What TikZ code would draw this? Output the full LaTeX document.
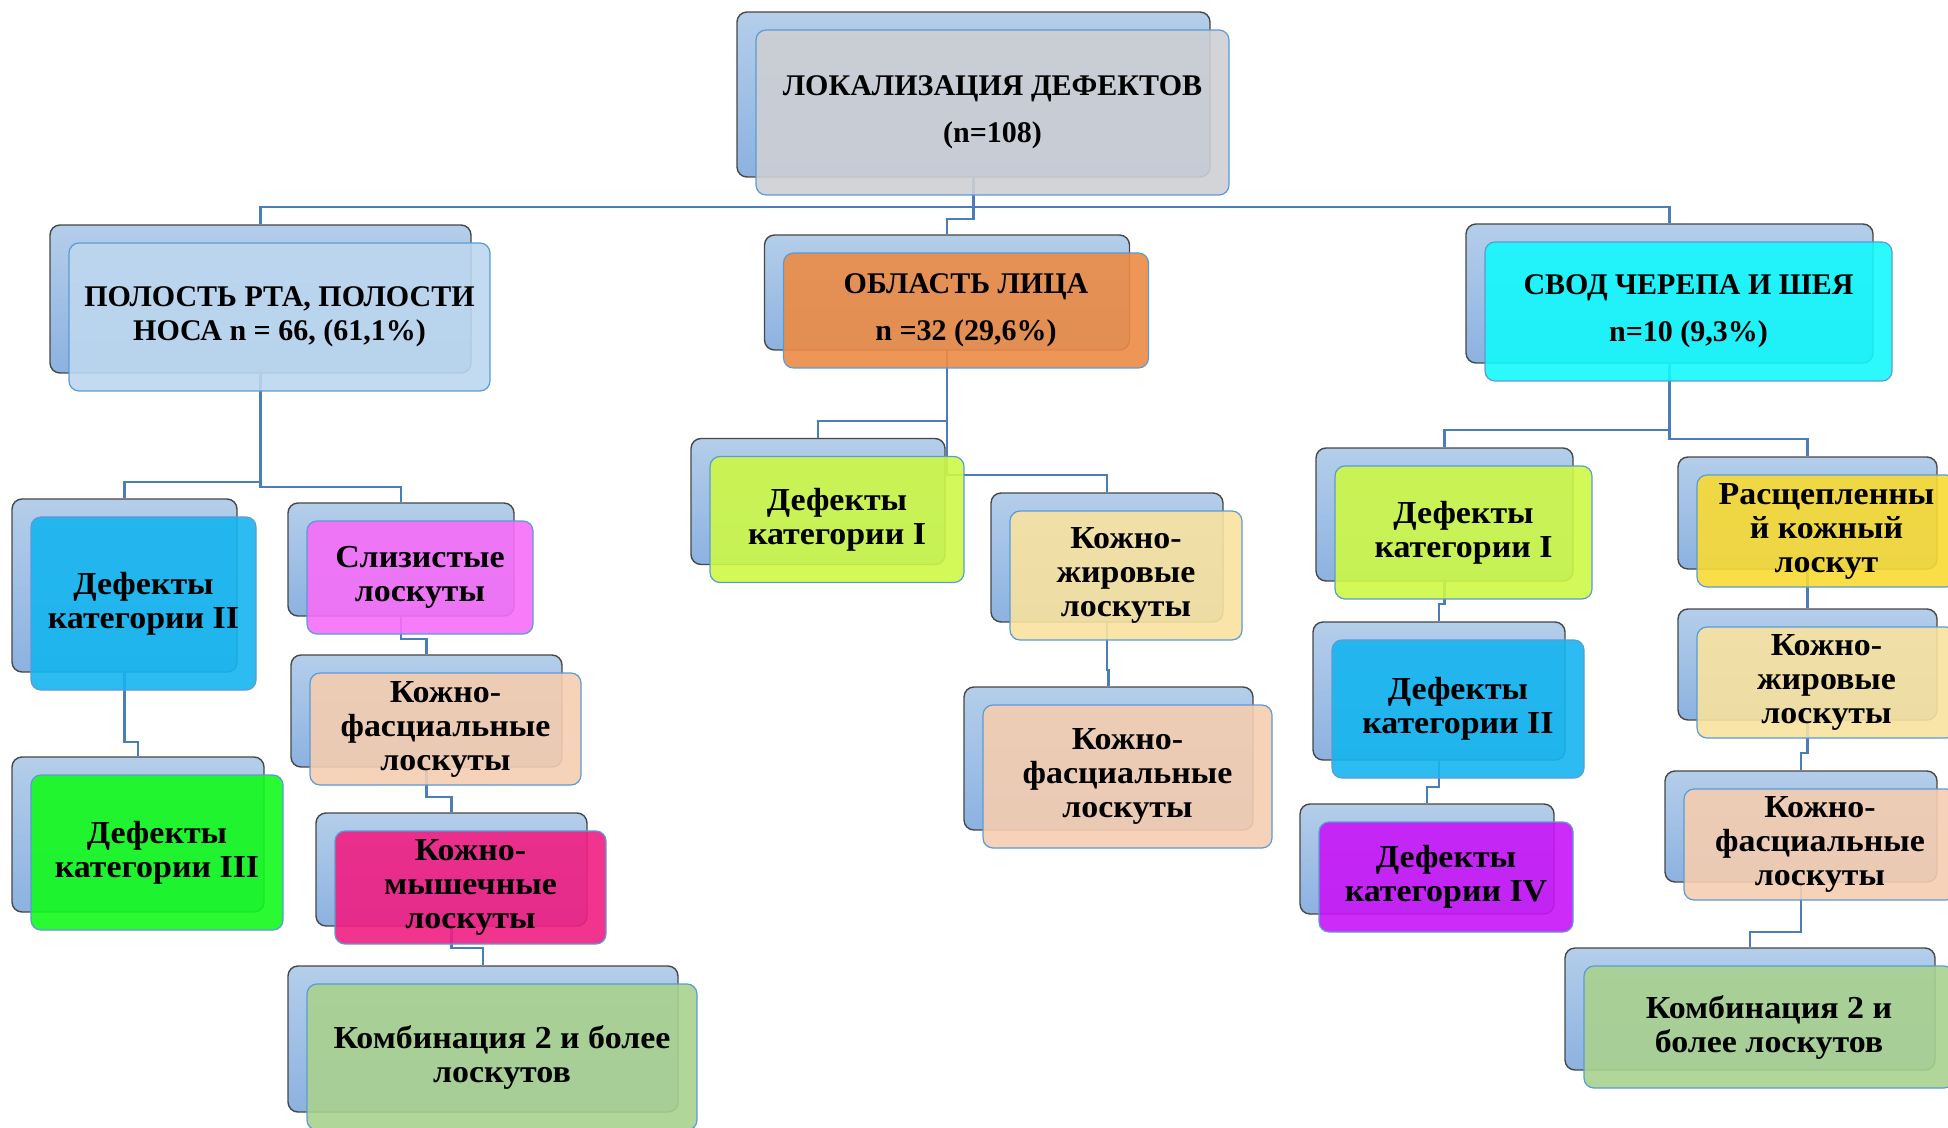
\documentclass[tikz,border=0pt]{standalone}
\usepackage{fontspec}
\setmainfont{Liberation Serif}
\newfontfamily\cardfont[FakeStretch=1.06]{Liberation Serif}

\definecolor{backtop}{HTML}{B4CEEA}
\definecolor{backbot}{HTML}{8CB2E1}
\definecolor{backline}{HTML}{474747}
\definecolor{frontline}{HTML}{5B9BD5}
\definecolor{linkblue}{HTML}{4A7EBB}
\definecolor{cRoot}{HTML}{CDCFD4}
\definecolor{cOral}{HTML}{BDD7EE}
\definecolor{cFace}{HTML}{EC8B45}
\definecolor{cSkull}{HTML}{14F8FC}
\definecolor{cCatI}{HTML}{CDF846}
\definecolor{cCatII}{HTML}{15B5EF}
\definecolor{cCatIII}{HTML}{12FA1C}
\definecolor{cCatIV}{HTML}{C815F7}
\definecolor{cMucosa}{HTML}{F66EF8}
\definecolor{cFat}{HTML}{F8E29F}
\definecolor{cFascia}{HTML}{F5CDB0}
\definecolor{cMuscle}{HTML}{F01E82}
\definecolor{cCombo}{HTML}{A9D18E}
\definecolor{cSplit}{HTML}{F8DA33}

\tikzset{
  wh/.style 2 args={minimum width={#1*0.5pt}, minimum height={#2*0.5pt}},
  back/.style={draw=backline, line width=0.7pt, rounded corners=5pt, top color=backtop, bottom color=backbot, inner sep=0pt},
  front/.style={draw=frontline, line width=0.6pt, rounded corners=5pt, fill opacity=0.9, text opacity=1, inner sep=0pt, align=center, font=\cardfont\fontsize{16}{17}\selectfont\bfseries, execute at begin node={\rule{0pt}{15pt}}},
  caps/.style={font=\rmfamily\fontsize{15}{17}\selectfont\bfseries},
  wide/.style={font=\rmfamily\fontsize{15}{23.5}\selectfont\bfseries},
  link/.style={draw=linkblue, line width=1.4pt}
}

\begin{document}
\begin{tikzpicture}[x=0.5pt,y=-0.5pt]
\clip (0,0) rectangle (1948,1128);

\node[back, wh={473}{165}] (root) at (973.5,94.5) {};
\node[back, wh={421}{148}] (oral) at (260.5,299) {};
\node[back, wh={365}{115}] (face) at (947,292.5) {};
\node[back, wh={407}{139}] (skull) at (1669.5,293.5) {};
\node[back, wh={225}{173}] (catIIL) at (124.5,585.5) {};
\node[back, wh={252}{155}] (catIIIL) at (138,834.5) {};
\node[back, wh={226}{113}] (mucL) at (401,559.5) {};
\node[back, wh={271}{112}] (fascL) at (426.5,711) {};
\node[back, wh={271}{113}] (muscL) at (451.5,869.5) {};
\node[back, wh={390}{146}] (combL) at (483,1039) {};
\node[back, wh={254}{126}] (catIM) at (818,501.5) {};
\node[back, wh={232}{129}] (fatM) at (1107,557.5) {};
\node[back, wh={289}{143}] (fascM) at (1108.5,758.5) {};
\node[back, wh={257}{133}] (catIR) at (1444.5,514.5) {};
\node[back, wh={252}{138}] (catIIR) at (1439,691) {};
\node[back, wh={254}{110}] (catIVR) at (1427,859) {};
\node[back, wh={259}{112}] (splitR) at (1807.5,513) {};
\node[back, wh={259}{111}] (fatR) at (1807.5,664.5) {};
\node[back, wh={272}{111}] (fascR) at (1801,826.5) {};
\node[back, wh={370}{122}] (combR) at (1750,1009) {};

\draw[link] (root.south) -- (root.south |- 0,207) -| (oral.north);
\draw[link] (root.south) -- (root.south |- 0,207) -| (skull.north);
\draw[link] (root.south) -- (root.south |- 0,219) -| (face.north);
\draw[link] (oral.south) -- (oral.south |- 0,482) -| (catIIL.north);
\draw[link] (oral.south) -- (oral.south |- 0,487) -| (mucL.north);
\draw[link] (catIIL.south) -- (catIIL.south |- 0,742) -| (catIIIL.north);
\draw[link] (mucL.south) -- (mucL.south |- 0,639) -| (fascL.north);
\draw[link] (fascL.south) -- (fascL.south |- 0,797) -| (muscL.north);
\draw[link] (muscL.south) -- (muscL.south |- 0,948) -| (combL.north);
\draw[link] (face.south) -- (face.south |- 0,421) -| (catIM.north);
\draw[link] (face.south) -- (face.south |- 0,475) -| (fatM.north);
\draw[link] (fatM.south) -- (fatM.south |- 0,670) -| (fascM.north);
\draw[link] (skull.south) -- (skull.south |- 0,430) -| (catIR.north);
\draw[link] (skull.south) -- (skull.south |- 0,439) -| (splitR.north);
\draw[link] (catIR.south) -- (catIR.south |- 0,604) -| (catIIR.north);
\draw[link] (catIIR.south) -- (catIIR.south |- 0,787) -| (catIVR.north);
\draw[link] (splitR.south) -- (fatR.north);
\draw[link] (fatR.south) -- (fatR.south |- 0,753) -| (fascR.north);
\draw[link] (fascR.south) -- (fascR.south |- 0,932) -| (combR.north);

\node[front, wide, wh={473}{165}, fill=cRoot] (root-t) at ([shift={(19,18)}]root.center) {ЛОКАЛИЗАЦИЯ ДЕФЕКТОВ\\(n=108)};
\node[front, caps, wh={421}{148}, fill=cOral] (oral-t) at ([shift={(19,18)}]oral.center) {ПОЛОСТЬ РТА, ПОЛОСТИ\\НОСА n = 66, (61,1\%)};
\node[front, wide, wh={365}{115}, fill=cFace] (face-t) at ([shift={(19,18)}]face.center) {ОБЛАСТЬ ЛИЦА\\n =32 (29,6\%)};
\node[front, wide, wh={407}{139}, fill=cSkull] (skull-t) at ([shift={(19,18)}]skull.center) {СВОД ЧЕРЕПА И ШЕЯ\\n=10 (9,3\%)};
\node[front, wh={225}{173}, fill=cCatII] (catIIL-t) at ([shift={(19,18)}]catIIL.center) {Дефекты\\категории II};
\node[front, wh={252}{155}, fill=cCatIII] (catIIIL-t) at ([shift={(19,18)}]catIIIL.center) {Дефекты\\категории III};
\node[front, wh={226}{113}, fill=cMucosa] (mucL-t) at ([shift={(19,18)}]mucL.center) {Слизистые\\лоскуты};
\node[front, wh={271}{112}, fill=cFascia] (fascL-t) at ([shift={(19,18)}]fascL.center) {Кожно-\\фасциальные\\лоскуты};
\node[front, wh={271}{113}, fill=cMuscle] (muscL-t) at ([shift={(19,18)}]muscL.center) {Кожно-\\мышечные\\лоскуты};
\node[front, wh={390}{146}, fill=cCombo] (combL-t) at ([shift={(19,18)}]combL.center) {Комбинация 2 и более\\лоскутов};
\node[front, wh={254}{126}, fill=cCatI] (catIM-t) at ([shift={(19,18)}]catIM.center) {Дефекты\\категории I};
\node[front, wh={232}{129}, fill=cFat] (fatM-t) at ([shift={(19,18)}]fatM.center) {Кожно-\\жировые\\лоскуты};
\node[front, wh={289}{143}, fill=cFascia] (fascM-t) at ([shift={(19,18)}]fascM.center) {Кожно-\\фасциальные\\лоскуты};
\node[front, wh={257}{133}, fill=cCatI] (catIR-t) at ([shift={(19,18)}]catIR.center) {Дефекты\\категории I};
\node[front, wh={252}{138}, fill=cCatII] (catIIR-t) at ([shift={(19,18)}]catIIR.center) {Дефекты\\категории II};
\node[front, wh={254}{110}, fill=cCatIV] (catIVR-t) at ([shift={(19,18)}]catIVR.center) {Дефекты\\категории IV};
\node[front, wh={259}{112}, fill=cSplit] (splitR-t) at ([shift={(19,18)}]splitR.center) {Расщепленны\\й кожный\\лоскут};
\node[front, wh={259}{111}, fill=cFat] (fatR-t) at ([shift={(19,18)}]fatR.center) {Кожно-\\жировые\\лоскуты};
\node[front, wh={272}{111}, fill=cFascia] (fascR-t) at ([shift={(19,18)}]fascR.center) {Кожно-\\фасциальные\\лоскуты};
\node[front, wh={370}{122}, fill=cCombo] (combR-t) at ([shift={(19,18)}]combR.center) {Комбинация 2 и\\более лоскутов};
\end{tikzpicture}
\end{document}
